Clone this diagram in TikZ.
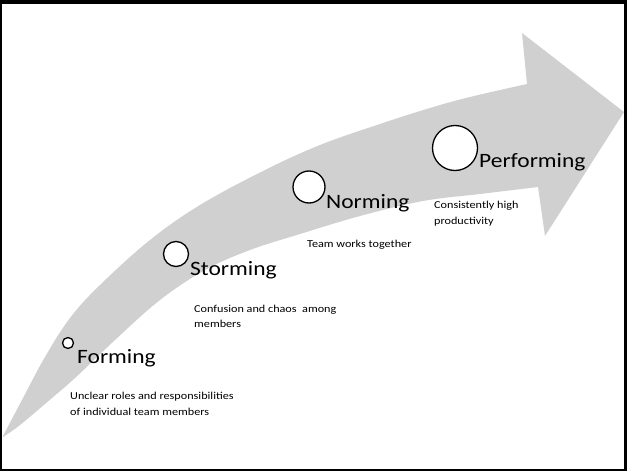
\documentclass[tikz,border=0pt]{standalone}
\usepackage{graphicx}
\usepackage{fontspec}
\setmainfont{Carlito}
\definecolor{arrowgray}{RGB}{208,208,208}
\newcommand{\hstretch}[1]{\scalebox{1.15}[1]{#1}}
\begin{document}
\begin{tikzpicture}[x=1pt,y=-1pt,
  stage/.style={circle,draw=black,fill=white,line width=1.3pt,inner sep=0pt},
  biglabel/.style={anchor=base west,inner sep=0pt,font=\fontsize{20.4}{24}\selectfont},
  desc/.style={anchor=base west,inner sep=0pt,font=\fontsize{10.6}{13}\selectfont}]
\useasboundingbox (0,0) rectangle (627,471);
\fill[black] (0,0) rectangle (627,471);
\fill[white] (2,4) rectangle (624,469);
% arrow
\fill[arrowgray] plot[smooth,tension=0.6] coordinates {(3,436) (22,400) (45,357) (70,318) (100,285) (150,240) (200,205) (263,171) (320,145) (380,124) (430,108) (470,97) (527,84)}
  -- (522,33) -- (624,112) -- (545,236) -- (538,187)
  -- plot[smooth,tension=0.6] coordinates {(538,187) (480,194) (423,201) (360,216) (300,234) (250,250) (205,270) (160,300) (115,340) (75,378) (52,398) (20,425) (3,437)} -- cycle;
% stages
\node[stage,minimum size=11pt] (c1) at (68,343) {};
\node[stage,minimum size=25pt] (c2) at (176,254) {};
\node[stage,minimum size=32pt] (c3) at (309,187) {};
\node[stage,minimum size=45pt] (c4) at (455,148) {};
\node[biglabel] (l1) at (77,363) {\hstretch{Forming}};
\node[biglabel] (l2) at (190,275) {\hstretch{Storming}};
\node[biglabel] (l3) at (326,208) {\hstretch{Norming}};
\node[biglabel] (l4) at (479,167) {\hstretch{Performing}};
\node[desc] (d1a) at (70,399) {\hstretch{Unclear roles and responsibilities}};
\node[desc] (d1b) at (70,415) {\hstretch{of individual team members}};
\node[desc] (d2a) at (194,312) {\hstretch{Confusion and chaos\ \ among}};
\node[desc] (d2b) at (194,327) {\hstretch{members}};
\node[desc] (d3) at (307,247) {\hstretch{Team works together}};
\node[desc] (d4a) at (434,208) {\hstretch{Consistently high}};
\node[desc] (d4b) at (434,224) {\hstretch{productivity}};
\end{tikzpicture}
\end{document}
